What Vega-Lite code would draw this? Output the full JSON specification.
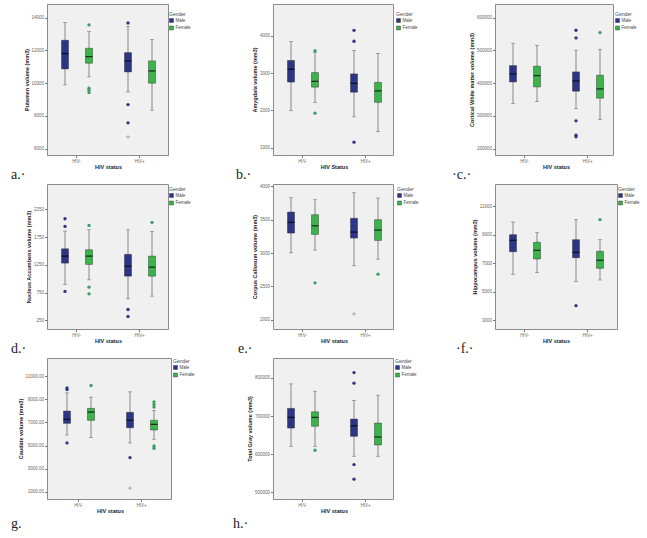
{
"$schema": "https://vega.github.io/schema/vega-lite/v6.json",
"padding": {"left": 10, "top": 3, "right": 4, "bottom": 4},
"background": "white",
"config": {
 "view": {"fill": "#f0f0f0", "stroke": "#8c8c8c", "strokeWidth": 1},
 "axis": {"labelFont": "Liberation Sans", "titleFont": "Liberation Sans", "labelFontSize": 4.5, "labelColor": "#666", "titleFontSize": 5.5, "titleColor": "#222", "titleFontWeight": "bold", "tickSize": 2.5, "tickColor": "#777", "domain": false, "grid": false, "labelPadding": 1, "titlePadding": 1.5, "labelOverlap": false, "labelFlush": false, "labelSeparation": -40},
 "legend": {"titleFontSize": 5, "labelFontSize": 4.5, "symbolType": "square", "symbolSize": 16, "titlePadding": 1, "rowPadding": 0.5, "padding": 0, "labelOffset": 1.5, "titleFontWeight": "normal", "titleColor": "#444", "labelColor": "#444", "labelFont": "Liberation Sans", "titleFont": "Liberation Sans", "symbolStrokeColor": "#222", "symbolStrokeWidth": 0.4},
 "title": {"font": "Liberation Serif", "fontSize": 14, "fontWeight": "normal", "color": "#222"}
},
"datasets": {
 "aBox": [
  {"hiv": "HIV-", "g": "Male", "lo": 9896, "q1": 10872, "med": 11805, "q3": 12622, "hi": 13695},
  {"hiv": "HIV-", "g": "Female", "lo": 10384, "q1": 11220, "med": 11622, "q3": 12134, "hi": 13146},
  {"hiv": "HIV+", "g": "Male", "lo": 9470, "q1": 10689, "med": 11360, "q3": 11866, "hi": 13451},
  {"hiv": "HIV+", "g": "Female", "lo": 8354, "q1": 10000, "med": 10750, "q3": 11360, "hi": 12659}],
 "aOut": [
  {"hiv": "HIV-", "g": "Female", "v": 13555, "k": "o"},
  {"hiv": "HIV-", "g": "Female", "v": 9695, "k": "o"},
  {"hiv": "HIV-", "g": "Female", "v": 9573, "k": "o"},
  {"hiv": "HIV-", "g": "Female", "v": 9427, "k": "o"},
  {"hiv": "HIV+", "g": "Male", "v": 13677, "k": "o"},
  {"hiv": "HIV+", "g": "Male", "v": 8695, "k": "o"},
  {"hiv": "HIV+", "g": "Male", "v": 7579, "k": "o"},
  {"hiv": "HIV+", "g": "Male", "v": 6720, "k": "x"}],
 "bBox": [
  {"hiv": "HIV-", "g": "Male", "lo": 1989, "q1": 2758, "med": 3103, "q3": 3337, "hi": 3845},
  {"hiv": "HIV-", "g": "Female", "lo": 2215, "q1": 2622, "med": 2777, "q3": 3011, "hi": 3554},
  {"hiv": "HIV+", "g": "Male", "lo": 1826, "q1": 2486, "med": 2723, "q3": 2976, "hi": 3600},
  {"hiv": "HIV+", "g": "Female", "lo": 1427, "q1": 2215, "med": 2522, "q3": 2750, "hi": 3527}],
 "bOut": [
  {"hiv": "HIV-", "g": "Female", "v": 3600, "k": "o"},
  {"hiv": "HIV-", "g": "Female", "v": 1924, "k": "o"},
  {"hiv": "HIV+", "g": "Male", "v": 4144, "k": "o"},
  {"hiv": "HIV+", "g": "Male", "v": 3853, "k": "o"},
  {"hiv": "HIV+", "g": "Male", "v": 1147, "k": "o"}],
 "cBox": [
  {"hiv": "HIV-", "g": "Male", "lo": 337805, "q1": 403963, "med": 428354, "q3": 453659, "hi": 521951},
  {"hiv": "HIV-", "g": "Female", "lo": 343902, "q1": 388720, "med": 423171, "q3": 451829, "hi": 515854},
  {"hiv": "HIV+", "g": "Male", "lo": 322561, "q1": 375610, "med": 407012, "q3": 434451, "hi": 500610},
  {"hiv": "HIV+", "g": "Female", "lo": 289024, "q1": 354268, "med": 382622, "q3": 424390, "hi": 502439}],
 "cOut": [
  {"hiv": "HIV+", "g": "Male", "v": 561585, "k": "o"},
  {"hiv": "HIV+", "g": "Male", "v": 538110, "k": "o"},
  {"hiv": "HIV+", "g": "Male", "v": 285061, "k": "o"},
  {"hiv": "HIV+", "g": "Male", "v": 241463, "k": "o"},
  {"hiv": "HIV+", "g": "Male", "v": 236280, "k": "o"},
  {"hiv": "HIV+", "g": "Female", "v": 554268, "k": "o"}],
 "dBox": [
  {"hiv": "HIV-", "g": "Male", "lo": 896, "q1": 1281, "med": 1407, "q3": 1539, "hi": 1858},
  {"hiv": "HIV-", "g": "Female", "lo": 979, "q1": 1257, "med": 1407, "q3": 1521, "hi": 1882},
  {"hiv": "HIV+", "g": "Male", "lo": 636, "q1": 1046, "med": 1227, "q3": 1438, "hi": 1882},
  {"hiv": "HIV+", "g": "Female", "lo": 685, "q1": 1046, "med": 1208, "q3": 1407, "hi": 1853}],
 "dOut": [
  {"hiv": "HIV-", "g": "Male", "v": 2080, "k": "o"},
  {"hiv": "HIV-", "g": "Male", "v": 1943, "k": "o"},
  {"hiv": "HIV-", "g": "Male", "v": 770, "k": "o"},
  {"hiv": "HIV-", "g": "Female", "v": 1961, "k": "o"},
  {"hiv": "HIV-", "g": "Female", "v": 847, "k": "o"},
  {"hiv": "HIV-", "g": "Female", "v": 727, "k": "o"},
  {"hiv": "HIV+", "g": "Male", "v": 445, "k": "o"},
  {"hiv": "HIV+", "g": "Male", "v": 318, "k": "o"},
  {"hiv": "HIV+", "g": "Female", "v": 2015, "k": "o"}],
 "eBox": [
  {"hiv": "HIV-", "g": "Male", "lo": 3003, "q1": 3299, "med": 3459, "q3": 3614, "hi": 3829},
  {"hiv": "HIV-", "g": "Female", "lo": 3044, "q1": 3279, "med": 3408, "q3": 3574, "hi": 3799},
  {"hiv": "HIV+", "g": "Male", "lo": 2808, "q1": 3224, "med": 3314, "q3": 3520, "hi": 3904},
  {"hiv": "HIV+", "g": "Female", "lo": 2908, "q1": 3189, "med": 3344, "q3": 3499, "hi": 3824}],
 "eOut": [
  {"hiv": "HIV-", "g": "Female", "v": 2553, "k": "o"},
  {"hiv": "HIV+", "g": "Male", "v": 2087, "k": "x"},
  {"hiv": "HIV+", "g": "Female", "v": 2683, "k": "o"}],
 "fBox": [
  {"hiv": "HIV-", "g": "Male", "lo": 6228, "q1": 7814, "med": 8614, "q3": 9007, "hi": 9898},
  {"hiv": "HIV-", "g": "Female", "lo": 6340, "q1": 7302, "med": 7912, "q3": 8474, "hi": 9147},
  {"hiv": "HIV+", "g": "Male", "lo": 5737, "q1": 7393, "med": 7772, "q3": 8656, "hi": 10060},
  {"hiv": "HIV+", "g": "Female", "lo": 5828, "q1": 6649, "med": 7211, "q3": 7842, "hi": 8656}],
 "fOut": [
  {"hiv": "HIV+", "g": "Male", "v": 4025, "k": "o"},
  {"hiv": "HIV+", "g": "Female", "v": 10060, "k": "o"}],
 "gBox": [
  {"hiv": "HIV-", "g": "Male", "lo": 5914, "q1": 6922, "med": 7267, "q3": 7983, "hi": 9560},
  {"hiv": "HIV-", "g": "Female", "lo": 5681, "q1": 7181, "med": 7897, "q3": 8216, "hi": 9190},
  {"hiv": "HIV+", "g": "Male", "lo": 5224, "q1": 6543, "med": 7181, "q3": 7871, "hi": 9647},
  {"hiv": "HIV+", "g": "Female", "lo": 5543, "q1": 6345, "med": 6836, "q3": 7181, "hi": 8043}],
 "gOut": [
  {"hiv": "HIV-", "g": "Male", "v": 9991, "k": "o"},
  {"hiv": "HIV-", "g": "Male", "v": 9853, "k": "o"},
  {"hiv": "HIV-", "g": "Male", "v": 5224, "k": "o"},
  {"hiv": "HIV-", "g": "Female", "v": 10198, "k": "o"},
  {"hiv": "HIV+", "g": "Male", "v": 3957, "k": "o"},
  {"hiv": "HIV+", "g": "Male", "v": 1319, "k": "x"},
  {"hiv": "HIV+", "g": "Female", "v": 8784, "k": "o"},
  {"hiv": "HIV+", "g": "Female", "v": 8560, "k": "o"},
  {"hiv": "HIV+", "g": "Female", "v": 8330, "k": "o"},
  {"hiv": "HIV+", "g": "Female", "v": 4966, "k": "o"},
  {"hiv": "HIV+", "g": "Female", "v": 4767, "k": "o"}],
 "hBox": [
  {"hiv": "HIV-", "g": "Male", "lo": 620888, "q1": 668668, "med": 696606, "q3": 720104, "hi": 784334},
  {"hiv": "HIV-", "g": "Female", "lo": 620888, "q1": 673368, "med": 696606, "q3": 711227, "hi": 765274},
  {"hiv": "HIV+", "g": "Male", "lo": 594778, "q1": 646997, "med": 674674, "q3": 692167, "hi": 740992},
  {"hiv": "HIV+", "g": "Female", "lo": 594778, "q1": 624282, "med": 645170, "q3": 681723, "hi": 754830}],
 "hOut": [
  {"hiv": "HIV-", "g": "Female", "v": 610444, "k": "o"},
  {"hiv": "HIV+", "g": "Male", "v": 814099, "k": "o"},
  {"hiv": "HIV+", "g": "Male", "v": 786162, "k": "o"},
  {"hiv": "HIV+", "g": "Male", "v": 572846, "k": "o"},
  {"hiv": "HIV+", "g": "Male", "v": 534726, "k": "o"}]
},
"bounds": "flush",
"align": "none",
"columns": 3,
"spacing": {"row": 29, "column": 102},
"resolve": {"scale": {"x": "independent", "y": "independent", "color": "independent", "fill": "independent"}, "legend": {"color": "independent"}},
"concat": [
  {"width": 121, "height": 151,
   "title": {"text": "a.·", "orient": "bottom", "anchor": "start", "frame": "group", "dx": -36, "offset": -2},
   "encoding": {"x": {"field": "hiv", "type": "nominal", "scale": {"domain": ["HIV-", "HIV+"], "range": [-2, 124], "paddingInner": 0, "paddingOuter": 0}, "axis": {"title": "HIV status", "labelAngle": 0}},
                "xOffset": {"field": "g", "type": "nominal", "scale": {"domain": ["Male", "Female"], "range": [8, 56], "paddingInner": 0, "paddingOuter": 0}}},
   "layer": [
    {"data": {"name": "aBox"}, "mark": {"type": "rule", "color": "#5c5c5c", "strokeWidth": 0.7}, "encoding": {"y": {"field": "lo", "type": "quantitative", "scale": {"domain": [5616, 14835], "nice": false, "zero": false}, "axis": {"title": "Putamen volume (mm3)", "values": [6000, 8000, 10000, 12000, 14000], "format": "d", "labelOverlap": false}}, "y2": {"field": "hi"}}},
    {"data": {"name": "aBox"}, "mark": {"type": "tick", "color": "#5c5c5c", "size": 4, "thickness": 0.7}, "encoding": {"y": {"field": "lo", "type": "quantitative", "axis": {"title": "Putamen volume (mm3)", "values": [6000, 8000, 10000, 12000, 14000], "format": "d", "labelOverlap": false}}}},
    {"data": {"name": "aBox"}, "mark": {"type": "tick", "color": "#5c5c5c", "size": 4, "thickness": 0.7}, "encoding": {"y": {"field": "hi", "type": "quantitative", "axis": {"title": "Putamen volume (mm3)", "values": [6000, 8000, 10000, 12000, 14000], "format": "d", "labelOverlap": false}}}},
    {"data": {"name": "aBox"}, "mark": {"type": "bar", "size": 7, "stroke": "#1a1a1a", "strokeWidth": 0.4}, "encoding": {"y": {"field": "q1", "type": "quantitative", "axis": {"title": "Putamen volume (mm3)", "values": [6000, 8000, 10000, 12000, 14000], "format": "d", "labelOverlap": false}}, "y2": {"field": "q3"}, "color": {"field": "g", "type": "nominal", "scale": {"domain": ["Male", "Female"], "range": ["#2d3586", "#3cb44b"]}, "legend": {"title": "Gender", "orient": "none", "legendX": 122, "legendY": 8}}}},
    {"data": {"name": "aBox"}, "mark": {"type": "tick", "color": "#000", "size": 7, "thickness": 1.3}, "encoding": {"y": {"field": "med", "type": "quantitative", "axis": {"title": "Putamen volume (mm3)", "values": [6000, 8000, 10000, 12000, 14000], "format": "d", "labelOverlap": false}}}},
    {"data": {"name": "aOut"}, "mark": {"type": "point", "filled": true, "size": 11}, "encoding": {"y": {"field": "v", "type": "quantitative", "axis": {"title": "Putamen volume (mm3)", "values": [6000, 8000, 10000, 12000, 14000], "format": "d", "labelOverlap": false}}, "fill": {"field": "g", "type": "nominal", "scale": {"domain": ["Male", "Female"], "range": ["#2d3586", "#3a9e60"]}, "legend": null}, "opacity": {"field": "k", "type": "nominal", "scale": {"domain": ["o", "x"], "range": [1, 0.35]}, "legend": null}, "shape": {"field": "k", "type": "nominal", "scale": {"domain": ["o", "x"], "range": ["circle", "cross"]}, "legend": null}}}
   ]},
   {"width": 120, "height": 151,
    "title": {"text": "b.·", "orient": "bottom", "anchor": "start", "frame": "group", "dx": -37, "offset": -2},
    "encoding": {"x": {"field": "hiv", "type": "nominal", "scale": {"domain": ["HIV-", "HIV+"], "range": [-2, 124], "paddingInner": 0, "paddingOuter": 0}, "axis": {"title": "HIV Status", "labelAngle": 0}},
                 "xOffset": {"field": "g", "type": "nominal", "scale": {"domain": ["Male", "Female"], "range": [8, 56], "paddingInner": 0, "paddingOuter": 0}}},
    "layer": [
     {"data": {"name": "bBox"}, "mark": {"type": "rule", "color": "#5c5c5c", "strokeWidth": 0.7}, "encoding": {"y": {"field": "lo", "type": "quantitative", "scale": {"domain": [802, 4851], "nice": false, "zero": false}, "axis": {"title": "Amygdala volume (mm3)", "values": [1000, 2000, 3000, 4000], "format": "d", "labelOverlap": false}}, "y2": {"field": "hi"}}},
     {"data": {"name": "bBox"}, "mark": {"type": "tick", "color": "#5c5c5c", "size": 4, "thickness": 0.7}, "encoding": {"y": {"field": "lo", "type": "quantitative", "axis": {"title": "Amygdala volume (mm3)", "values": [1000, 2000, 3000, 4000], "format": "d", "labelOverlap": false}}}},
     {"data": {"name": "bBox"}, "mark": {"type": "tick", "color": "#5c5c5c", "size": 4, "thickness": 0.7}, "encoding": {"y": {"field": "hi", "type": "quantitative", "axis": {"title": "Amygdala volume (mm3)", "values": [1000, 2000, 3000, 4000], "format": "d", "labelOverlap": false}}}},
     {"data": {"name": "bBox"}, "mark": {"type": "bar", "size": 7, "stroke": "#1a1a1a", "strokeWidth": 0.4}, "encoding": {"y": {"field": "q1", "type": "quantitative", "axis": {"title": "Amygdala volume (mm3)", "values": [1000, 2000, 3000, 4000], "format": "d", "labelOverlap": false}}, "y2": {"field": "q3"}, "color": {"field": "g", "type": "nominal", "scale": {"domain": ["Male", "Female"], "range": ["#2d3586", "#3cb44b"]}, "legend": {"title": "Gender", "orient": "none", "legendX": 123, "legendY": 8}}}},
     {"data": {"name": "bBox"}, "mark": {"type": "tick", "color": "#000", "size": 7, "thickness": 1.3}, "encoding": {"y": {"field": "med", "type": "quantitative", "axis": {"title": "Amygdala volume (mm3)", "values": [1000, 2000, 3000, 4000], "format": "d", "labelOverlap": false}}}},
     {"data": {"name": "bOut"}, "mark": {"type": "point", "filled": true, "size": 11}, "encoding": {"y": {"field": "v", "type": "quantitative", "axis": {"title": "Amygdala volume (mm3)", "values": [1000, 2000, 3000, 4000], "format": "d", "labelOverlap": false}}, "fill": {"field": "g", "type": "nominal", "scale": {"domain": ["Male", "Female"], "range": ["#2d3586", "#3a9e60"]}, "legend": null}, "opacity": {"field": "k", "type": "nominal", "scale": {"domain": ["o", "x"], "range": [1, 0.35]}, "legend": null}, "shape": {"field": "k", "type": "nominal", "scale": {"domain": ["o", "x"], "range": ["circle", "cross"]}, "legend": null}}}
    ]},
   {"width": 118, "height": 151,
    "title": {"text": "·c.·", "orient": "bottom", "anchor": "start", "frame": "group", "dx": -43, "offset": -2},
    "encoding": {"x": {"field": "hiv", "type": "nominal", "scale": {"domain": ["HIV-", "HIV+"], "range": [-2, 124], "paddingInner": 0, "paddingOuter": 0}, "axis": {"title": "HIV status", "labelAngle": 0}},
                 "xOffset": {"field": "g", "type": "nominal", "scale": {"domain": ["Male", "Female"], "range": [8, 56], "paddingInner": 0, "paddingOuter": 0}}},
    "layer": [
     {"data": {"name": "cBox"}, "mark": {"type": "rule", "color": "#5c5c5c", "strokeWidth": 0.7}, "encoding": {"y": {"field": "lo", "type": "quantitative", "scale": {"domain": [180793, 641768], "nice": false, "zero": false}, "axis": {"title": "Cortical White matter volume (mm3)", "values": [200000, 300000, 400000, 500000, 600000], "format": "d", "labelOverlap": false}}, "y2": {"field": "hi"}}},
     {"data": {"name": "cBox"}, "mark": {"type": "tick", "color": "#5c5c5c", "size": 4, "thickness": 0.7}, "encoding": {"y": {"field": "lo", "type": "quantitative", "axis": {"title": "Cortical White matter volume (mm3)", "values": [200000, 300000, 400000, 500000, 600000], "format": "d", "labelOverlap": false}}}},
     {"data": {"name": "cBox"}, "mark": {"type": "tick", "color": "#5c5c5c", "size": 4, "thickness": 0.7}, "encoding": {"y": {"field": "hi", "type": "quantitative", "axis": {"title": "Cortical White matter volume (mm3)", "values": [200000, 300000, 400000, 500000, 600000], "format": "d", "labelOverlap": false}}}},
     {"data": {"name": "cBox"}, "mark": {"type": "bar", "size": 7, "stroke": "#1a1a1a", "strokeWidth": 0.4}, "encoding": {"y": {"field": "q1", "type": "quantitative", "axis": {"title": "Cortical White matter volume (mm3)", "values": [200000, 300000, 400000, 500000, 600000], "format": "d", "labelOverlap": false}}, "y2": {"field": "q3"}, "color": {"field": "g", "type": "nominal", "scale": {"domain": ["Male", "Female"], "range": ["#2d3586", "#3cb44b"]}, "legend": {"title": "Gender", "orient": "none", "legendX": 120, "legendY": 8}}}},
     {"data": {"name": "cBox"}, "mark": {"type": "tick", "color": "#000", "size": 7, "thickness": 1.3}, "encoding": {"y": {"field": "med", "type": "quantitative", "axis": {"title": "Cortical White matter volume (mm3)", "values": [200000, 300000, 400000, 500000, 600000], "format": "d", "labelOverlap": false}}}},
     {"data": {"name": "cOut"}, "mark": {"type": "point", "filled": true, "size": 11}, "encoding": {"y": {"field": "v", "type": "quantitative", "axis": {"title": "Cortical White matter volume (mm3)", "values": [200000, 300000, 400000, 500000, 600000], "format": "d", "labelOverlap": false}}, "fill": {"field": "g", "type": "nominal", "scale": {"domain": ["Male", "Female"], "range": ["#2d3586", "#3a9e60"]}, "legend": null}, "opacity": {"field": "k", "type": "nominal", "scale": {"domain": ["o", "x"], "range": [1, 0.35]}, "legend": null}, "shape": {"field": "k", "type": "nominal", "scale": {"domain": ["o", "x"], "range": ["circle", "cross"]}, "legend": null}}}
    ]},
   {"width": 121, "height": 145,
    "title": {"text": "d.·", "orient": "bottom", "anchor": "start", "frame": "group", "dx": -36, "offset": -2},
    "encoding": {"x": {"field": "hiv", "type": "nominal", "scale": {"domain": ["HIV-", "HIV+"], "range": [-2, 124], "paddingInner": 0, "paddingOuter": 0}, "axis": {"title": "HIV status", "labelAngle": 0}},
                 "xOffset": {"field": "g", "type": "nominal", "scale": {"domain": ["Male", "Female"], "range": [8, 56], "paddingInner": 0, "paddingOuter": 0}}},
    "layer": [
     {"data": {"name": "dBox"}, "mark": {"type": "rule", "color": "#5c5c5c", "strokeWidth": 0.7}, "encoding": {"y": {"field": "lo", "type": "quantitative", "scale": {"domain": [93, 2707], "nice": false, "zero": false}, "axis": {"title": "Nucleus Accumbens volume (mm3)", "values": [250, 750, 1250, 1750, 2250], "format": "d", "labelOverlap": false}}, "y2": {"field": "hi"}}},
     {"data": {"name": "dBox"}, "mark": {"type": "tick", "color": "#5c5c5c", "size": 4, "thickness": 0.7}, "encoding": {"y": {"field": "lo", "type": "quantitative", "axis": {"title": "Nucleus Accumbens volume (mm3)", "values": [250, 750, 1250, 1750, 2250], "format": "d", "labelOverlap": false}}}},
     {"data": {"name": "dBox"}, "mark": {"type": "tick", "color": "#5c5c5c", "size": 4, "thickness": 0.7}, "encoding": {"y": {"field": "hi", "type": "quantitative", "axis": {"title": "Nucleus Accumbens volume (mm3)", "values": [250, 750, 1250, 1750, 2250], "format": "d", "labelOverlap": false}}}},
     {"data": {"name": "dBox"}, "mark": {"type": "bar", "size": 7, "stroke": "#1a1a1a", "strokeWidth": 0.4}, "encoding": {"y": {"field": "q1", "type": "quantitative", "axis": {"title": "Nucleus Accumbens volume (mm3)", "values": [250, 750, 1250, 1750, 2250], "format": "d", "labelOverlap": false}}, "y2": {"field": "q3"}, "color": {"field": "g", "type": "nominal", "scale": {"domain": ["Male", "Female"], "range": ["#2d3586", "#3cb44b"]}, "legend": {"title": "Gender", "orient": "none", "legendX": 122, "legendY": 3}}}},
     {"data": {"name": "dBox"}, "mark": {"type": "tick", "color": "#000", "size": 7, "thickness": 1.3}, "encoding": {"y": {"field": "med", "type": "quantitative", "axis": {"title": "Nucleus Accumbens volume (mm3)", "values": [250, 750, 1250, 1750, 2250], "format": "d", "labelOverlap": false}}}},
     {"data": {"name": "dOut"}, "mark": {"type": "point", "filled": true, "size": 11}, "encoding": {"y": {"field": "v", "type": "quantitative", "axis": {"title": "Nucleus Accumbens volume (mm3)", "values": [250, 750, 1250, 1750, 2250], "format": "d", "labelOverlap": false}}, "fill": {"field": "g", "type": "nominal", "scale": {"domain": ["Male", "Female"], "range": ["#2d3586", "#3a9e60"]}, "legend": null}, "opacity": {"field": "k", "type": "nominal", "scale": {"domain": ["o", "x"], "range": [1, 0.35]}, "legend": null}, "shape": {"field": "k", "type": "nominal", "scale": {"domain": ["o", "x"], "range": ["circle", "cross"]}, "legend": null}}}
    ]},
    {"width": 120, "height": 145,
     "title": {"text": "e.·", "orient": "bottom", "anchor": "start", "frame": "group", "dx": -35, "offset": -2},
     "encoding": {"x": {"field": "hiv", "type": "nominal", "scale": {"domain": ["HIV-", "HIV+"], "range": [-2, 124], "paddingInner": 0, "paddingOuter": 0}, "axis": {"title": "HIV status", "labelAngle": 0}},
                  "xOffset": {"field": "g", "type": "nominal", "scale": {"domain": ["Male", "Female"], "range": [8, 56], "paddingInner": 0, "paddingOuter": 0}}},
     "layer": [
      {"data": {"name": "eBox"}, "mark": {"type": "rule", "color": "#5c5c5c", "strokeWidth": 0.7}, "encoding": {"y": {"field": "lo", "type": "quantitative", "scale": {"domain": [1860, 4035], "nice": false, "zero": false}, "axis": {"title": "Corpus Callosum volume (mm3)", "values": [2000, 2500, 3000, 3500, 4000], "format": "d", "labelOverlap": false}}, "y2": {"field": "hi"}}},
      {"data": {"name": "eBox"}, "mark": {"type": "tick", "color": "#5c5c5c", "size": 4, "thickness": 0.7}, "encoding": {"y": {"field": "lo", "type": "quantitative", "axis": {"title": "Corpus Callosum volume (mm3)", "values": [2000, 2500, 3000, 3500, 4000], "format": "d", "labelOverlap": false}}}},
      {"data": {"name": "eBox"}, "mark": {"type": "tick", "color": "#5c5c5c", "size": 4, "thickness": 0.7}, "encoding": {"y": {"field": "hi", "type": "quantitative", "axis": {"title": "Corpus Callosum volume (mm3)", "values": [2000, 2500, 3000, 3500, 4000], "format": "d", "labelOverlap": false}}}},
      {"data": {"name": "eBox"}, "mark": {"type": "bar", "size": 7, "stroke": "#1a1a1a", "strokeWidth": 0.4}, "encoding": {"y": {"field": "q1", "type": "quantitative", "axis": {"title": "Corpus Callosum volume (mm3)", "values": [2000, 2500, 3000, 3500, 4000], "format": "d", "labelOverlap": false}}, "y2": {"field": "q3"}, "color": {"field": "g", "type": "nominal", "scale": {"domain": ["Male", "Female"], "range": ["#2d3586", "#3cb44b"]}, "legend": {"title": "Gender", "orient": "none", "legendX": 124, "legendY": 3}}}},
      {"data": {"name": "eBox"}, "mark": {"type": "tick", "color": "#000", "size": 7, "thickness": 1.3}, "encoding": {"y": {"field": "med", "type": "quantitative", "axis": {"title": "Corpus Callosum volume (mm3)", "values": [2000, 2500, 3000, 3500, 4000], "format": "d", "labelOverlap": false}}}},
      {"data": {"name": "eOut"}, "mark": {"type": "point", "filled": true, "size": 11}, "encoding": {"y": {"field": "v", "type": "quantitative", "axis": {"title": "Corpus Callosum volume (mm3)", "values": [2000, 2500, 3000, 3500, 4000], "format": "d", "labelOverlap": false}}, "fill": {"field": "g", "type": "nominal", "scale": {"domain": ["Male", "Female"], "range": ["#2d3586", "#3a9e60"]}, "legend": null}, "opacity": {"field": "k", "type": "nominal", "scale": {"domain": ["o", "x"], "range": [1, 0.35]}, "legend": null}, "shape": {"field": "k", "type": "nominal", "scale": {"domain": ["o", "x"], "range": ["circle", "cross"]}, "legend": null}}}
     ]},
    {"width": 122, "height": 145,
     "title": {"text": "·f.·", "orient": "bottom", "anchor": "start", "frame": "group", "dx": -39, "offset": -2},
     "encoding": {"x": {"field": "hiv", "type": "nominal", "scale": {"domain": ["HIV-", "HIV+"], "range": [-2, 124], "paddingInner": 0, "paddingOuter": 0}, "axis": {"title": "HIV status", "labelAngle": 0}},
                  "xOffset": {"field": "g", "type": "nominal", "scale": {"domain": ["Male", "Female"], "range": [8, 56], "paddingInner": 0, "paddingOuter": 0}}},
     "layer": [
      {"data": {"name": "fBox"}, "mark": {"type": "rule", "color": "#5c5c5c", "strokeWidth": 0.7}, "encoding": {"y": {"field": "lo", "type": "quantitative", "scale": {"domain": [2389, 12565], "nice": false, "zero": false}, "axis": {"title": "Hippocampus volume (mm3)", "values": [3000, 5000, 7000, 9000, 11000], "format": "d", "labelOverlap": false}}, "y2": {"field": "hi"}}},
      {"data": {"name": "fBox"}, "mark": {"type": "tick", "color": "#5c5c5c", "size": 4, "thickness": 0.7}, "encoding": {"y": {"field": "lo", "type": "quantitative", "axis": {"title": "Hippocampus volume (mm3)", "values": [3000, 5000, 7000, 9000, 11000], "format": "d", "labelOverlap": false}}}},
      {"data": {"name": "fBox"}, "mark": {"type": "tick", "color": "#5c5c5c", "size": 4, "thickness": 0.7}, "encoding": {"y": {"field": "hi", "type": "quantitative", "axis": {"title": "Hippocampus volume (mm3)", "values": [3000, 5000, 7000, 9000, 11000], "format": "d", "labelOverlap": false}}}},
      {"data": {"name": "fBox"}, "mark": {"type": "bar", "size": 7, "stroke": "#1a1a1a", "strokeWidth": 0.4}, "encoding": {"y": {"field": "q1", "type": "quantitative", "axis": {"title": "Hippocampus volume (mm3)", "values": [3000, 5000, 7000, 9000, 11000], "format": "d", "labelOverlap": false}}, "y2": {"field": "q3"}, "color": {"field": "g", "type": "nominal", "scale": {"domain": ["Male", "Female"], "range": ["#2d3586", "#3cb44b"]}, "legend": {"title": "Gender", "orient": "none", "legendX": 123, "legendY": 3}}}},
      {"data": {"name": "fBox"}, "mark": {"type": "tick", "color": "#000", "size": 7, "thickness": 1.3}, "encoding": {"y": {"field": "med", "type": "quantitative", "axis": {"title": "Hippocampus volume (mm3)", "values": [3000, 5000, 7000, 9000, 11000], "format": "d", "labelOverlap": false}}}},
      {"data": {"name": "fOut"}, "mark": {"type": "point", "filled": true, "size": 11}, "encoding": {"y": {"field": "v", "type": "quantitative", "axis": {"title": "Hippocampus volume (mm3)", "values": [3000, 5000, 7000, 9000, 11000], "format": "d", "labelOverlap": false}}, "fill": {"field": "g", "type": "nominal", "scale": {"domain": ["Male", "Female"], "range": ["#2d3586", "#3a9e60"]}, "legend": null}, "opacity": {"field": "k", "type": "nominal", "scale": {"domain": ["o", "x"], "range": [1, 0.35]}, "legend": null}, "shape": {"field": "k", "type": "nominal", "scale": {"domain": ["o", "x"], "range": ["circle", "cross"]}, "legend": null}}}
     ]},
   {"width": 124, "height": 141,
    "title": {"text": "g.", "orient": "bottom", "anchor": "start", "frame": "group", "dx": -36, "offset": 3},
    "encoding": {"x": {"field": "hiv", "type": "nominal", "scale": {"domain": ["HIV-", "HIV+"], "range": [0, 126], "paddingInner": 0, "paddingOuter": 0}, "axis": {"title": "HIV status", "labelAngle": 0}},
                 "xOffset": {"field": "g", "type": "nominal", "scale": {"domain": ["Male", "Female"], "range": [8, 56], "paddingInner": 0, "paddingOuter": 0}}},
    "layer": [
     {"data": {"name": "gBox"}, "mark": {"type": "rule", "color": "#5c5c5c", "strokeWidth": 0.7}, "encoding": {"y": {"field": "lo", "type": "quantitative", "scale": {"domain": [371, 12578], "nice": false, "zero": false}, "axis": {"title": "Caudate volume (mm3)", "values": [1000, 3000, 5000, 7000, 9000, 11000], "format": ".2f", "labelOverlap": false}}, "y2": {"field": "hi"}}},
     {"data": {"name": "gBox"}, "mark": {"type": "tick", "color": "#5c5c5c", "size": 4, "thickness": 0.7}, "encoding": {"y": {"field": "lo", "type": "quantitative", "axis": {"title": "Caudate volume (mm3)", "values": [1000, 3000, 5000, 7000, 9000, 11000], "format": ".2f", "labelOverlap": false}}}},
     {"data": {"name": "gBox"}, "mark": {"type": "tick", "color": "#5c5c5c", "size": 4, "thickness": 0.7}, "encoding": {"y": {"field": "hi", "type": "quantitative", "axis": {"title": "Caudate volume (mm3)", "values": [1000, 3000, 5000, 7000, 9000, 11000], "format": ".2f", "labelOverlap": false}}}},
     {"data": {"name": "gBox"}, "mark": {"type": "bar", "size": 7, "stroke": "#1a1a1a", "strokeWidth": 0.4}, "encoding": {"y": {"field": "q1", "type": "quantitative", "axis": {"title": "Caudate volume (mm3)", "values": [1000, 3000, 5000, 7000, 9000, 11000], "format": ".2f", "labelOverlap": false}}, "y2": {"field": "q3"}, "color": {"field": "g", "type": "nominal", "scale": {"domain": ["Male", "Female"], "range": ["#2d3586", "#3cb44b"]}, "legend": {"title": "Gender", "orient": "none", "legendX": 126, "legendY": 1}}}},
     {"data": {"name": "gBox"}, "mark": {"type": "tick", "color": "#000", "size": 7, "thickness": 1.3}, "encoding": {"y": {"field": "med", "type": "quantitative", "axis": {"title": "Caudate volume (mm3)", "values": [1000, 3000, 5000, 7000, 9000, 11000], "format": ".2f", "labelOverlap": false}}}},
     {"data": {"name": "gOut"}, "mark": {"type": "point", "filled": true, "size": 11}, "encoding": {"y": {"field": "v", "type": "quantitative", "axis": {"title": "Caudate volume (mm3)", "values": [1000, 3000, 5000, 7000, 9000, 11000], "format": ".2f", "labelOverlap": false}}, "fill": {"field": "g", "type": "nominal", "scale": {"domain": ["Male", "Female"], "range": ["#2d3586", "#3a9e60"]}, "legend": null}, "opacity": {"field": "k", "type": "nominal", "scale": {"domain": ["o", "x"], "range": [1, 0.35]}, "legend": null}, "shape": {"field": "k", "type": "nominal", "scale": {"domain": ["o", "x"], "range": ["circle", "cross"]}, "legend": null}}}
    ]},
   {"width": 120, "height": 141,
    "title": {"text": "h.·", "orient": "bottom", "anchor": "start", "frame": "group", "dx": -40, "offset": 3},
    "encoding": {"x": {"field": "hiv", "type": "nominal", "scale": {"domain": ["HIV-", "HIV+"], "range": [-2, 124], "paddingInner": 0, "paddingOuter": 0}, "axis": {"title": "HIV status", "labelAngle": 0}},
                 "xOffset": {"field": "g", "type": "nominal", "scale": {"domain": ["Male", "Female"], "range": [8, 56], "paddingInner": 0, "paddingOuter": 0}}},
    "layer": [
     {"data": {"name": "hBox"}, "mark": {"type": "rule", "color": "#5c5c5c", "strokeWidth": 0.7}, "encoding": {"y": {"field": "lo", "type": "quantitative", "scale": {"domain": [482768, 852219], "nice": false, "zero": false}, "axis": {"title": "Total Gray volume (mm3)", "values": [500000, 600000, 700000, 800000], "format": "d", "labelOverlap": false}}, "y2": {"field": "hi"}}},
     {"data": {"name": "hBox"}, "mark": {"type": "tick", "color": "#5c5c5c", "size": 4, "thickness": 0.7}, "encoding": {"y": {"field": "lo", "type": "quantitative", "axis": {"title": "Total Gray volume (mm3)", "values": [500000, 600000, 700000, 800000], "format": "d", "labelOverlap": false}}}},
     {"data": {"name": "hBox"}, "mark": {"type": "tick", "color": "#5c5c5c", "size": 4, "thickness": 0.7}, "encoding": {"y": {"field": "hi", "type": "quantitative", "axis": {"title": "Total Gray volume (mm3)", "values": [500000, 600000, 700000, 800000], "format": "d", "labelOverlap": false}}}},
     {"data": {"name": "hBox"}, "mark": {"type": "bar", "size": 7, "stroke": "#1a1a1a", "strokeWidth": 0.4}, "encoding": {"y": {"field": "q1", "type": "quantitative", "axis": {"title": "Total Gray volume (mm3)", "values": [500000, 600000, 700000, 800000], "format": "d", "labelOverlap": false}}, "y2": {"field": "q3"}, "color": {"field": "g", "type": "nominal", "scale": {"domain": ["Male", "Female"], "range": ["#2d3586", "#3cb44b"]}, "legend": {"title": "Gender", "orient": "none", "legendX": 122, "legendY": 1}}}},
     {"data": {"name": "hBox"}, "mark": {"type": "tick", "color": "#000", "size": 7, "thickness": 1.3}, "encoding": {"y": {"field": "med", "type": "quantitative", "axis": {"title": "Total Gray volume (mm3)", "values": [500000, 600000, 700000, 800000], "format": "d", "labelOverlap": false}}}},
     {"data": {"name": "hOut"}, "mark": {"type": "point", "filled": true, "size": 11}, "encoding": {"y": {"field": "v", "type": "quantitative", "axis": {"title": "Total Gray volume (mm3)", "values": [500000, 600000, 700000, 800000], "format": "d", "labelOverlap": false}}, "fill": {"field": "g", "type": "nominal", "scale": {"domain": ["Male", "Female"], "range": ["#2d3586", "#3a9e60"]}, "legend": null}, "opacity": {"field": "k", "type": "nominal", "scale": {"domain": ["o", "x"], "range": [1, 0.35]}, "legend": null}, "shape": {"field": "k", "type": "nominal", "scale": {"domain": ["o", "x"], "range": ["circle", "cross"]}, "legend": null}}}
    ]}
]
}
